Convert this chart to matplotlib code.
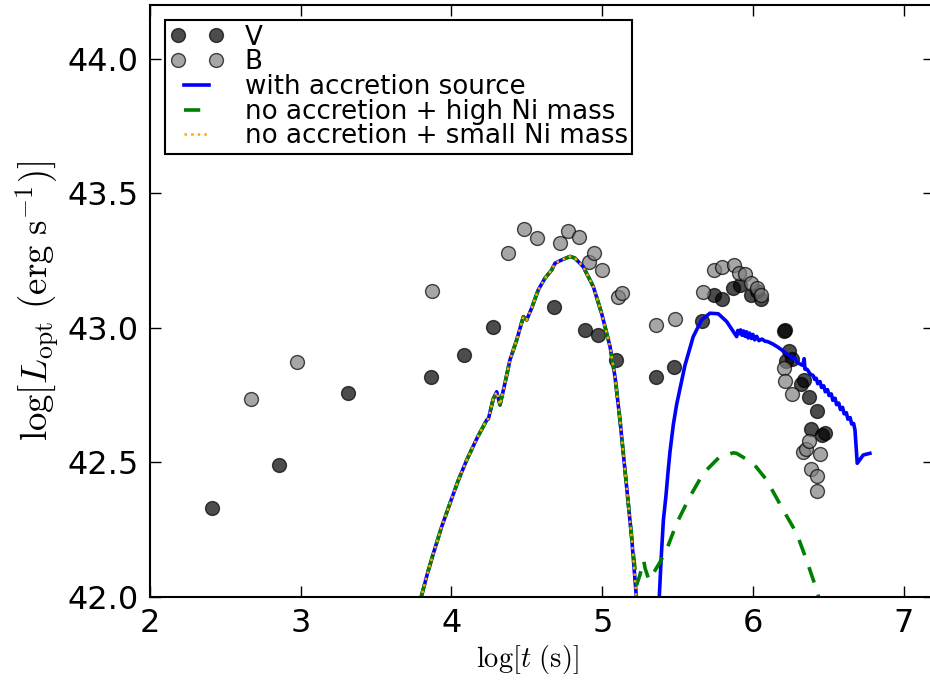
import numpy as np
import matplotlib
matplotlib.use("Agg")
import matplotlib.pyplot as plt
from matplotlib.legend_handler import HandlerLine2D

plt.rcParams['mathtext.fontset'] = 'cm'
plt.rcParams['font.family'] = ['DejaVu Sans']

# Photometry: log time (s) and log optical luminosity (erg/s)
V_t = [2.409, 2.858, 3.316, 3.864, 4.085, 4.278, 4.680, 4.886, 4.974, 5.089,
       5.355, 5.476, 5.664, 5.742, 5.797, 5.870, 5.914, 5.985, 6.029, 6.051,
       6.208, 6.214, 6.219, 6.237, 6.257, 6.318, 6.336, 6.372, 6.385, 6.423,
       6.456, 6.479]
V_L = [42.331, 42.490, 42.759, 42.816, 42.898, 43.002, 43.078, 42.992, 42.973, 42.879,
       42.818, 42.854, 43.025, 43.121, 43.108, 43.146, 43.159, 43.120, 43.138, 43.106,
       42.988, 42.990, 42.878, 42.915, 42.883, 42.790, 42.806, 42.744, 42.623, 42.691,
       42.601, 42.608]

B_t = [2.668, 2.977, 3.869, 4.377, 4.483, 4.569, 4.722, 4.775, 4.846, 4.910,
       4.946, 4.997, 5.103, 5.131, 5.355, 5.481, 5.667, 5.740, 5.795, 5.872,
       5.909, 5.945, 5.987, 6.029, 6.053, 6.204, 6.215, 6.261, 6.334, 6.350,
       6.372, 6.445, 6.385, 6.423, 6.427]
B_L = [42.734, 42.874, 43.136, 43.277, 43.366, 43.332, 43.316, 43.360, 43.337, 43.245,
       43.278, 43.216, 43.115, 43.130, 43.011, 43.034, 43.132, 43.214, 43.226, 43.234,
       43.203, 43.201, 43.166, 43.147, 43.122, 42.850, 42.803, 42.754, 42.539, 42.548,
       42.580, 42.530, 42.476, 42.449, 42.394]

# First light-curve hump, common to all three models
hump_t = [3.795, 3.840, 3.880, 3.935, 3.990, 4.045, 4.101, 4.170, 4.234, 4.245,
          4.277, 4.300, 4.322, 4.355, 4.388, 4.433, 4.477, 4.499, 4.532, 4.576,
          4.620, 4.665, 4.687, 4.731, 4.786, 4.819, 4.874, 4.941, 4.996, 5.052,
          5.085, 5.118, 5.162, 5.195]
hump_L = [41.990, 42.085, 42.161, 42.260, 42.347, 42.432, 42.508, 42.590, 42.657, 42.661,
          42.735, 42.762, 42.713, 42.794, 42.880, 42.955, 43.041, 43.029, 43.073, 43.141,
          43.184, 43.215, 43.240, 43.252, 43.265, 43.259, 43.227, 43.153, 43.054, 42.930,
          42.818, 42.657, 42.409, 42.223]

# Model with an accretion energy source: end of hump 1, then second peak
acc_t = [5.228, 5.378, 5.392, 5.406, 5.423, 5.438, 5.450, 5.472, 5.494, 5.549, 5.604,
         5.660, 5.715, 5.770, 5.826, 5.892, 5.900, 5.910, 5.918, 5.928, 5.938,
         5.948, 5.958, 5.968, 5.978, 5.990, 6.000, 6.012, 6.025, 6.040, 6.060,
         6.080, 6.100, 6.130, 6.160, 6.190, 6.220, 6.245, 6.265, 6.280, 6.292,
         6.310, 6.330, 6.340, 6.345, 6.360, 6.380, 6.400, 6.410, 6.420, 6.430,
         6.445, 6.455, 6.470, 6.480, 6.495, 6.505, 6.520, 6.530, 6.545, 6.555,
         6.570, 6.580, 6.595, 6.605, 6.620, 6.630, 6.645, 6.655, 6.668, 6.677,
         6.692, 6.732, 6.776]
acc_L = [41.990, 41.990, 42.150, 42.285, 42.375, 42.471, 42.540, 42.640, 42.715, 42.860, 42.967,
         43.029, 43.054, 43.052, 43.023, 42.967, 42.990, 42.978, 42.992, 42.972, 42.988,
         42.968, 42.985, 42.962, 42.980, 42.960, 42.975, 42.955, 42.968, 42.952, 42.958,
         42.950, 42.948, 42.940, 42.930, 42.918, 42.905, 42.895, 42.885, 42.888, 42.872,
         42.866, 42.860, 42.885, 42.846, 42.845, 42.828, 42.822, 42.808, 42.812, 42.792,
         42.800, 42.778, 42.784, 42.762, 42.770, 42.748, 42.754, 42.730, 42.738, 42.714,
         42.720, 42.696, 42.704, 42.680, 42.684, 42.660, 42.666, 42.642, 42.644, 42.620,
         42.496, 42.527, 42.533]

# Model without accretion and a high Ni mass: tail after hump 1
hiNi_t = [5.229, 5.250, 5.275, 5.285, 5.310, 5.339, 5.380, 5.427, 5.494, 5.582,
          5.671, 5.781, 5.870, 5.892, 6.002, 6.091, 6.201, 6.290, 6.356, 6.423, 6.440]
hiNi_L = [42.045, 42.080, 42.135, 42.105, 42.062, 42.087, 42.125, 42.174, 42.273, 42.372,
          42.459, 42.521, 42.535, 42.533, 42.496, 42.434, 42.322, 42.236, 42.136, 42.025, 41.990]

# Model without accretion and a small Ni mass drops out after hump 1
loNi_t = [5.228]
loNi_L = [41.990]

labels = ['V', 'B', 'with accretion source',
          'no accretion + high Ni mass', 'no accretion + small Ni mass']

fig = plt.figure(figsize=(9.3, 6.82), dpi=100)
ax = fig.add_axes([150 / 930, 1 - 596.7 / 682, 783.8 / 930, 591.7 / 682])

pV, = ax.plot(V_t, V_L, 'o', color='k', alpha=0.7, ms=10, mec='k', mew=1.0, label=labels[0])
pB, = ax.plot(B_t, B_L, 'o', color='0.5', alpha=0.7, ms=10, mec='k', mew=1.0, label=labels[1])

l1, = ax.plot(hump_t + acc_t, hump_L + acc_L, '-', color='b', lw=2.6, label=labels[2])
l2, = ax.plot(hump_t + hiNi_t, hump_L + hiNi_L, '--', color='g', lw=2.6,
              dashes=(4.5, 3.5), label=labels[3])
l3, = ax.plot(hump_t + loNi_t, hump_L + loNi_L, ':', color='orange', lw=1.8, label=labels[4])

ax.set_xlim(2, 7.2)
ax.set_ylim(42, 44.2)
ax.set_xticks([2, 3, 4, 5, 6, 7])
ax.set_yticks([42.0, 42.5, 43.0, 43.5, 44.0])
ax.set_yticklabels(['42.0', '42.5', '43.0', '43.5', '44.0'])

ax.tick_params(which='both', direction='in', top=True, right=True,
               length=8, width=1.0, labelsize=23, pad=8)
for s in ax.spines.values():
    s.set_linewidth(1.5)

ax.set_xlabel(r'$\log[t\ ({\rm s})]$', fontsize=20.5)
ax.xaxis.set_label_coords(0.481, -0.078)
ax.set_ylabel(r'$\log[L_{\rm opt}\ ({\rm erg\ s^{-1}})]$', fontsize=26.5, labelpad=5)

hpad = 0.27
leg = ax.legend(loc='upper left', numpoints=2, fontsize=18.8, frameon=True,
                fancybox=False, framealpha=1, edgecolor='k', borderpad=0.18,
                labelspacing=-0.05, handlelength=1.55 + hpad, handletextpad=1.05,
                borderaxespad=0.57,
                handler_map={pV: HandlerLine2D(marker_pad=0.05, xpad=hpad),
                             pB: HandlerLine2D(marker_pad=0.05, xpad=hpad),
                             l1: HandlerLine2D(xpad=hpad),
                             l2: HandlerLine2D(xpad=hpad),
                             l3: HandlerLine2D(xpad=hpad)})
leg.get_frame().set_linewidth(1.5)

fig.savefig('out.png', dpi=100)
